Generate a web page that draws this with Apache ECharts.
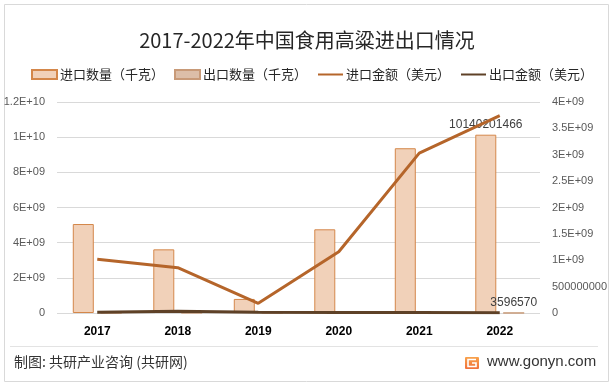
<!DOCTYPE html>
<html><head><meta charset="utf-8">
<script src="https://cdn.jsdelivr.net/npm/echarts@6/dist/echarts.min.js"></script>
<style>html,body{margin:0;padding:0;background:#fff}#c{width:614px;height:387px}</style>
</head><body><div id="c"></div>
<script>
const years = ['2017','2018','2019','2020','2021','2022'];
const importQty = [5060000000, 3620000000, 800000000, 4760000000, 9370000000, 10140201466];
const exportQty = [5200000, 9800000, 4100000, 2900000, 3300000, 3596570];
const importAmt = [1018000000, 859000000, 184000000, 1160000000, 3030000000, 3740000000];
const exportAmt = [15000000, 35000000, 12000000, 10000000, 9000000, 6000000];
const leftTicks = ['0','2E+09','4E+09','6E+09','8E+09','1E+10','1.2E+10'];
const rightTicks = ['0','500000000','1E+09','1.5E+09','2E+09','2.5E+09','3E+09','3.5E+09','4E+09'];
const names = ['进口数量（千克）','出口数量（千克）','进口金额（美元）','出口金额（美元）'];

const CJK = '"Noto Sans CJK SC","Noto Sans",sans-serif';
const LAT = '"Liberation Sans","DejaVu Sans",sans-serif';
const chart = echarts.init(document.getElementById('c'), null, {renderer:'canvas'});
const lastLabel = (arr) => arr.map((v,i)=> i===arr.length-1 ? {value:v, label:{show:true, position:'top', distance:4, color:'#404040', fontSize:12, fontFamily:LAT}} : v);
chart.setOption({
  animation:false,
  title:{text:'2017-2022年中国食用高粱进出口情况', left:'center', top:25, textStyle:{fontFamily:CJK, fontSize:20, fontWeight:'normal', color:'#262626'}},
  legend:{
    data:[
      {name:names[0], icon:'rect'},
      {name:names[1], icon:'rect'},
      {name:names[2], itemStyle:{opacity:0}},
      {name:names[3], itemStyle:{opacity:0}}
    ],
    top:68, left:31, width:590, padding:0, itemWidth:25, itemHeight:9, itemGap:10,
    textStyle:{fontFamily:CJK, fontSize:13, color:'#262626', padding:[0,0,0,-2]}},
  grid:{left:57, right:74, top:102, bottom:74},
  xAxis:{type:'category', data:years, axisTick:{show:false}, axisLine:{show:false},
    axisLabel:{color:'#000', fontWeight:'bold', fontSize:12, fontFamily:LAT, margin:13}},
  yAxis:[
    {type:'value', min:0, max:12000000000, interval:2000000000,
     axisLabel:{formatter:(v,i)=>leftTicks[i], color:'#595959', fontSize:11, fontFamily:LAT, margin:12},
     splitLine:{lineStyle:{color:'#d9d9d9'}}, axisLine:{show:false}, axisTick:{show:false}},
    {type:'value', min:0, max:4000000000, interval:500000000, position:'right',
     axisLabel:{formatter:(v,i)=>rightTicks[i], color:'#595959', fontSize:11, fontFamily:LAT, margin:12},
     splitLine:{show:false}, axisLine:{show:false}, axisTick:{show:false}}
  ],
  series:[
    {name:names[0], type:'bar', data:lastLabel(importQty), barWidth:21, barGap:'33%',
     itemStyle:{color:'#f1d1b9', borderColor:'#d4874a', borderWidth:1}},
    {name:names[1], type:'bar', data:lastLabel(exportQty), barWidth:21,
     itemStyle:{color:'#dcbea8', borderColor:'#c89a78', borderWidth:1}},
    {name:names[2], type:'line', yAxisIndex:1, data:importAmt, symbol:'none',
     lineStyle:{color:'#b5652a', width:3}, itemStyle:{color:'#b5652a'}},
    {name:names[3], type:'line', yAxisIndex:1, data:exportAmt, symbol:'none',
     lineStyle:{color:'#5e4127', width:3}, itemStyle:{color:'#5e4127'}}
  ],
  graphic:[
    {type:'rect', shape:{x:4.5, y:4.5, width:604, height:377}, style:{fill:'none', stroke:'#d9d9d9', lineWidth:1}, silent:true},
    {type:'line', shape:{x1:10, y1:346.5, x2:598, y2:346.5}, style:{stroke:'#e3e3e3', lineWidth:1}},
    {type:'text', left:14, top:355, style:{text:'制图: 共研产业咨询 (共研网)', font:'14px "Noto Sans CJK SC"', fill:'#333'}},
    {type:'rect', shape:{x:465, y:357, width:14, height:12, r:1}, style:{fill:new echarts.graphic.LinearGradient(0,0,0,1,[{offset:0,color:'#f8a24c'},{offset:1,color:'#f0703a'}])}},
    {type:'polyline', shape:{points:[[476,359.5],[468,359.5],[468,366.5],[476,366.5],[476,363],[472,363]]}, style:{stroke:'#fff', lineWidth:1.6, fill:'none'}},
    {type:'text', left:487, top:354, style:{text:'www.gonyn.com', font:'15px "Liberation Sans"', fill:'#333'}}
  ]
});
</script></body></html>
